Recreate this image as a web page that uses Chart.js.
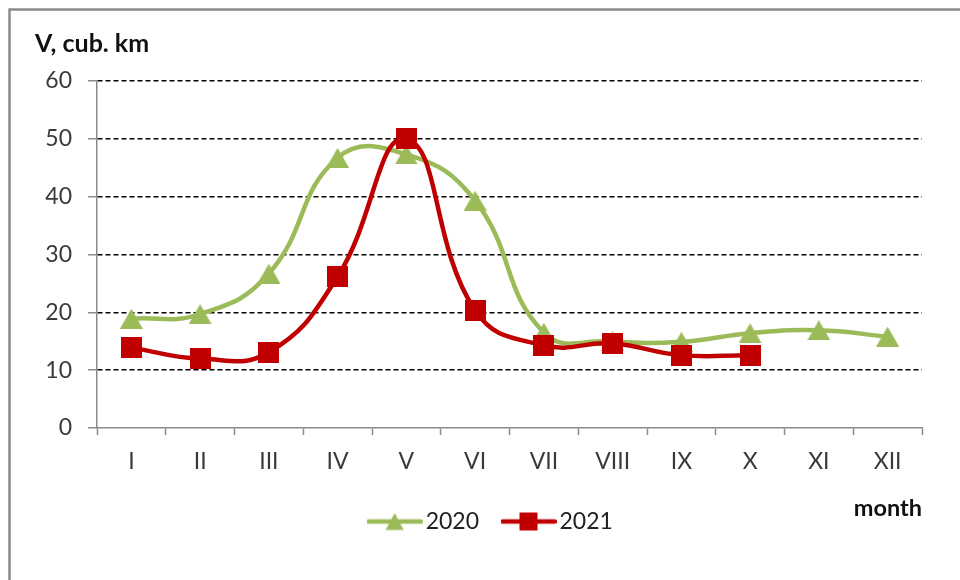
<!DOCTYPE html>
<html><head><meta charset="utf-8">
<script src="https://cdn.jsdelivr.net/npm/chart.js@4.4.1/dist/chart.umd.min.js"></script>
<style>html,body{margin:0;padding:0;background:#fff;}</style>
</head><body>
<canvas id="c" width="960" height="580"></canvas>
<script>
const months = ['I','II','III','IV','V','VI','VII','VIII','IX','X','XI','XII'];
const series2020 = [18.9, 19.7, 26.7, 46.7, 47.3, 39.3, 16.5, 15.0, 14.9, 16.4, 16.9, 15.8];
const series2021 = [13.9, 12.0, 13.1, 26.2, 50.0, 20.3, 14.3, 14.6, 12.6, 12.6, null, null];
const seriesNames = ['2020', '2021'];
const yTicks = [0, 10, 20, 30, 40, 50, 60];
const yAxisTitle = 'V, cub. km';
const xAxisTitle = 'month';

const GREEN = '#9BBB59';
const RED = '#C00000';
const FONT = 'Lato';

function markerImg(shape, color, w, h) {
  const c = document.createElement('canvas');
  c.width = w; c.height = h;
  const g = c.getContext('2d');
  g.fillStyle = color;
  if (shape === 'triangle') {
    g.beginPath(); g.moveTo(w / 2, 0); g.lineTo(w, h); g.lineTo(0, h); g.closePath(); g.fill();
  } else {
    g.fillRect(0, 0, w, h);
  }
  return c;
}
function legendImg(shape, color, len, mw, mh) {
  const h = 24;
  const c = document.createElement('canvas');
  c.width = len; c.height = h;
  const g = c.getContext('2d');
  g.strokeStyle = color; g.lineWidth = 4.5; g.lineCap = 'round';
  g.beginPath(); g.moveTo(2, h / 2); g.lineTo(len - 2, h / 2); g.stroke();
  g.fillStyle = color;
  const x0 = (len - mw) / 2, y0 = (h - mh) / 2;
  if (shape === 'triangle') {
    g.beginPath(); g.moveTo(len / 2, y0); g.lineTo(x0 + mw, y0 + mh); g.lineTo(x0, y0 + mh); g.closePath(); g.fill();
  } else {
    g.fillRect(x0, y0, mw, mh);
  }
  return c;
}

const triMarker = markerImg('triangle', GREEN, 23, 20);
const sqMarker = markerImg('rect', RED, 21, 21);
const legendMarks = [legendImg('triangle', GREEN, 56, 18, 17), legendImg('rect', RED, 56, 18, 18)];

const decor = {
  id: 'decor',
  afterLayout(chart) {
    // let the y tick labels use the space left of the scale box (no clipping)
    chart.scales.y.left = 0;
  },
  beforeDraw(chart) {
    const ctx = chart.ctx;
    ctx.save();
    ctx.fillStyle = '#fff';
    ctx.fillRect(0, 0, chart.width, chart.height);
    ctx.strokeStyle = '#8a8a8a';
    ctx.lineWidth = 2.5;
    ctx.beginPath();
    ctx.moveTo(9.5, chart.height + 5);
    ctx.lineTo(9.5, 9.5);
    ctx.lineTo(chart.width + 5, 9.5);
    ctx.stroke();
    ctx.restore();
  },
  afterDraw(chart) {
    const ctx = chart.ctx, a = chart.chartArea;
    ctx.save();
    ctx.fillStyle = '#111';
    ctx.textBaseline = 'middle';
    ctx.textAlign = 'left';
    ctx.font = 'bold 25px ' + FONT;
    ctx.fillText(yAxisTitle, a.left - 62, a.top - 37);
    ctx.textAlign = 'right';
    ctx.font = 'bold 23.5px ' + FONT;
    ctx.fillText(xAxisTitle, a.right, a.bottom + 80);
    ctx.restore();
  }
};

new Chart(document.getElementById('c'), {
  type: 'line',
  data: {
    labels: months,
    datasets: [
      {
        label: seriesNames[0], data: series2020, borderColor: GREEN, backgroundColor: GREEN,
        borderWidth: 4.5, tension: 0.45, pointStyle: triMarker, pointRadius: 10, order: 1,
        fill: false, spanGaps: false
      },
      {
        label: seriesNames[1], data: series2021, borderColor: RED, backgroundColor: RED,
        borderWidth: 4.5, tension: 0.45, pointStyle: sqMarker, pointRadius: 10, order: 0,
        fill: false, spanGaps: false
      }
    ]
  },
  options: {
    responsive: false,
    animation: false,
    devicePixelRatio: 1,
    layout: { padding: { top: 81, left: 66, right: 38, bottom: 37 } },
    plugins: {
      tooltip: { enabled: false },
      title: { display: false },
      legend: {
        position: 'bottom',
        labels: {
          usePointStyle: true,
          pointStyleWidth: 39,
          padding: 30,
          color: '#222',
          font: { family: FONT, size: 23 },
          generateLabels(chart) {
            return chart.data.datasets.map((ds, i) => ({
              text: ds.label, pointStyle: legendMarks[i], fillStyle: ds.borderColor,
              strokeStyle: ds.borderColor, lineWidth: 0, hidden: false, datasetIndex: i, fontColor: '#222'
            }));
          }
        }
      }
    },
    scales: {
      x: {
        offset: true,
        grid: { display: true, offset: true, drawOnChartArea: false, drawTicks: true, tickLength: 7, tickColor: '#8a8a8a', tickWidth: 1.5 },
        border: { color: '#8a8a8a', width: 1.5 },
        ticks: { color: '#3a3a3a', font: { family: FONT, size: 23 }, padding: 13, maxRotation: 0, autoSkip: false },
        afterFit(s) { s.height = 52; }
      },
      y: {
        min: 0, max: 60,
        afterBuildTicks(s) { s.ticks = yTicks.map(v => ({ value: v })); },
        grid: {
          color: (ctx) => (ctx.tick && ctx.tick.value === 0) ? 'rgba(0,0,0,0)' : '#000',
          lineWidth: 1.5,
          tickLength: 9,
          tickColor: '#8a8a8a',
          tickWidth: 1.5,
          tickBorderDash: []
        },
        border: { color: '#8a8a8a', width: 1.5, dash: [5, 3] },
        ticks: { color: '#3a3a3a', font: { family: FONT, size: 23 }, padding: 16 },
        afterFit(s) { s.width = 31; }
      }
    }
  },
  plugins: [decor]
});
</script>
</body></html>
